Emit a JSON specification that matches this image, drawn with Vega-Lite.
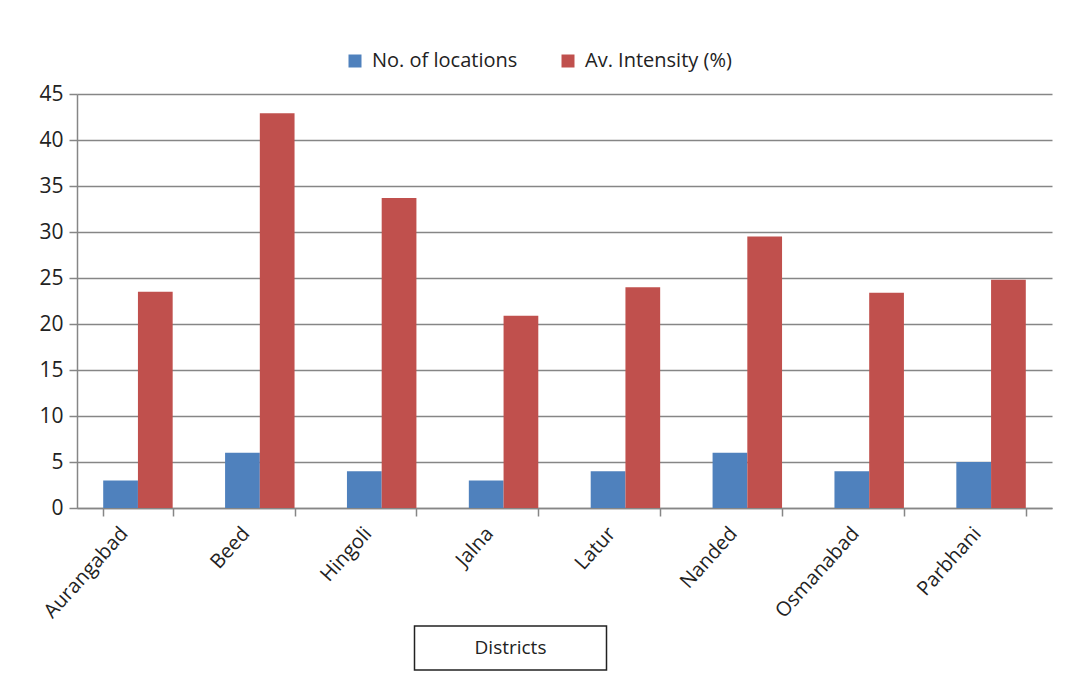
{
  "$schema": "https://vega.github.io/schema/vega-lite/v6.json",
  "background": "white",
  "padding": {"left": 38, "top": 51, "right": 10, "bottom": 10},
  "config": {"font": "Open Sans", "view": {"stroke": null}},
  "spacing": 3,
  "center": true,
  "vconcat": [
    {
      "width": 975,
      "height": 414,
      "data": {
        "values": [
          {"district": "Aurangabad", "series": "No. of locations", "value": 3},
          {"district": "Aurangabad", "series": "Av. Intensity (%)", "value": 23.5},
          {"district": "Beed", "series": "No. of locations", "value": 6},
          {"district": "Beed", "series": "Av. Intensity (%)", "value": 42.9},
          {"district": "Hingoli", "series": "No. of locations", "value": 4},
          {"district": "Hingoli", "series": "Av. Intensity (%)", "value": 33.7},
          {"district": "Jalna", "series": "No. of locations", "value": 3},
          {"district": "Jalna", "series": "Av. Intensity (%)", "value": 20.9},
          {"district": "Latur", "series": "No. of locations", "value": 4},
          {"district": "Latur", "series": "Av. Intensity (%)", "value": 24.0},
          {"district": "Nanded", "series": "No. of locations", "value": 6},
          {"district": "Nanded", "series": "Av. Intensity (%)", "value": 29.5},
          {"district": "Osmanabad", "series": "No. of locations", "value": 4},
          {"district": "Osmanabad", "series": "Av. Intensity (%)", "value": 23.4},
          {"district": "Parbhani", "series": "No. of locations", "value": 5},
          {"district": "Parbhani", "series": "Av. Intensity (%)", "value": 24.8}
        ]
      },
      "mark": {"type": "bar"},
      "encoding": {
        "x": {
          "field": "district",
          "type": "nominal",
          "sort": null,
          "scale": {"paddingInner": 0.43, "paddingOuter": 0.215},
          "axis": {
            "title": null,
            "labelAngle": -48,
            "labelFontSize": 20,
            "labelColor": "#222222",
            "labelPadding": 14,
            "labelOffset": -14,
            "tickBand": "extent",
            "tickSize": 8,
            "tickColor": "#868686",
            "tickWidth": 1.5,
            "domainColor": "#868686",
            "domainWidth": 1.5
          }
        },
        "xOffset": {"field": "series", "sort": ["No. of locations", "Av. Intensity (%)"]},
        "y": {
          "field": "value",
          "type": "quantitative",
          "scale": {"domain": [0, 45]},
          "axis": {
            "title": null,
            "values": [0, 5, 10, 15, 20, 25, 30, 35, 40, 45],
            "labelFontSize": 21,
            "labelColor": "#222222",
            "labelPadding": 6,
            "tickSize": 8,
            "tickColor": "#868686",
            "tickWidth": 1.5,
            "domainColor": "#868686",
            "domainWidth": 1.5,
            "gridColor": "#868686",
            "gridWidth": 1.5
          }
        },
        "color": {
          "field": "series",
          "type": "nominal",
          "scale": {"domain": ["No. of locations", "Av. Intensity (%)"], "range": ["#4F81BD", "#C0504D"]},
          "legend": {
            "title": null,
            "orient": "none",
            "legendX": 268,
            "legendY": -43,
            "direction": "horizontal",
            "symbolType": "square",
            "symbolSize": 169,
            "symbolStrokeWidth": 0,
            "labelFontSize": 20,
            "labelColor": "#222222",
            "labelOffset": 7,
            "columnPadding": 40
          }
        }
      }
    },
    {
      "spacing": 0,
      "hconcat": [
        {
          "width": 192,
          "height": 44,
          "view": {"stroke": "#222222", "strokeWidth": 1.5},
          "data": {"values": [{"label": "Districts"}]},
          "mark": {"type": "text", "fontSize": 19, "color": "#222222"},
          "encoding": {"text": {"field": "label", "type": "nominal"}}
        },
        {
          "width": 107,
          "height": 44,
          "data": {"values": []},
          "mark": {"type": "text"},
          "encoding": {}
        }
      ]
    }
  ]
}
